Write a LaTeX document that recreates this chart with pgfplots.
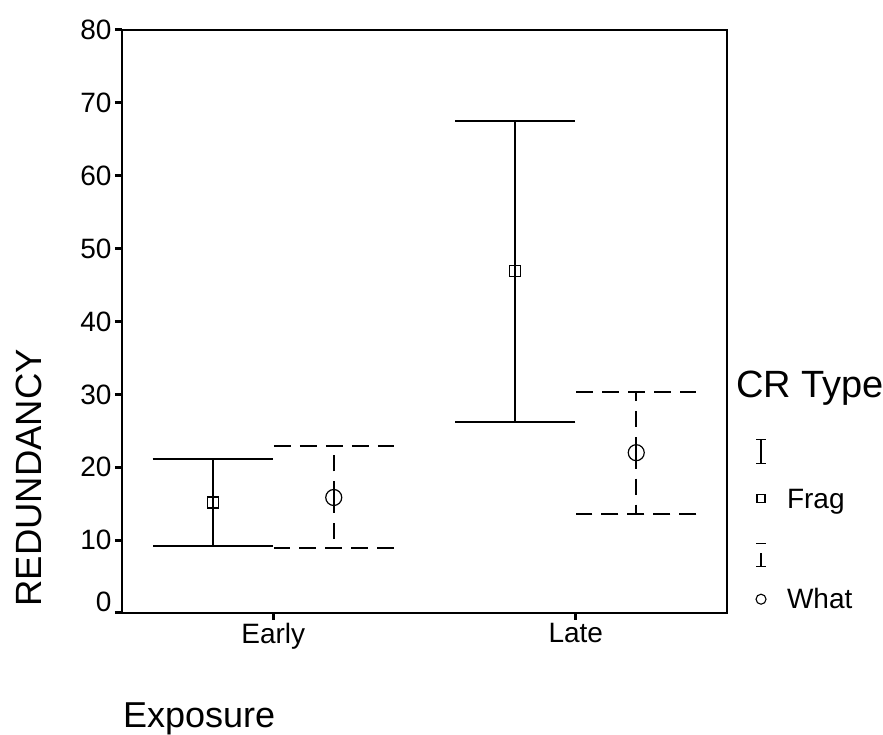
\documentclass[border=0pt]{standalone}
\usepackage{pgfplots}
\pgfplotsset{compat=1.18}
\usepackage{fontspec}
\setmainfont{Liberation Sans}
\begin{document}
\begin{tikzpicture}
\begin{axis}[
  name=ax,
  scale only axis, width=605pt, height=583pt,
  xmin=0.5, xmax=2.5, ymin=0, ymax=80,
  clip=false,
  xtick={1,2}, xticklabels={Early,Late},
  ytick={10,20,...,80},
  extra y ticks={0},
  extra y tick style={yticklabel style={yshift=11pt}},
  tick pos=left, tick align=outside,
  major tick length=7pt,
  every tick/.style={black, line width=3pt},
  major tick style={black, line width=3pt},
  axis line style={line width=1.6pt},
  /pgf/number format/assume math mode=true,
  ticklabel style={font=\fontsize{28}{32}\selectfont},
  xlabel={Exposure}, ylabel={REDUNDANCY},
  xlabel style={font=\fontsize{36}{42}\selectfont, at={(axis description cs:-0.004,-0.197)}, anchor=base west},
  ylabel style={font=\fontsize{36.5}{42}\selectfont, at={(axis description cs:-0.127,0.005)}, anchor=south west},
  legend style={at={(axis description cs:1.046,0.295)}, anchor=north west,
    draw=none, fill=none, inner sep=0pt, font=\fontsize{28}{32}\selectfont,
    row sep=28pt, column sep=20pt,
    nodes={inner sep=0pt, text height=17pt, text depth=5pt}},
  legend cell align=left,
  error bars/error bar style={line width=1.6pt},
]
% Frag
\addplot[forget plot, only marks, line width=1.6pt, mark=square, mark size=5.5pt,
  mark options={solid, line width=1.2pt},
  error bars/.cd, y dir=both, y explicit,
  error bar style={line width=1.6pt, solid},
  error mark options={rotate=90, line width=1.6pt, mark size=60pt, solid}]
  coordinates {(0.8,15.16) += (0,5.94) -= (0,5.99)
               (1.8,46.9) += (0,20.6) -= (0,20.7)};
% What
\addplot[forget plot, only marks, line width=1.6pt, mark=o, mark size=8pt,
  mark options={solid, line width=1.2pt},
  error bars/.cd, y dir=both, y explicit,
  error bar style={line width=1.6pt, dash pattern=on 16pt off 10pt},
  error mark options={rotate=90, line width=1.6pt, mark size=60pt, dash pattern=on 17pt off 9pt}]
  coordinates {(1.2,15.85) += (0,7.1) -= (0,6.92)
               (2.2,22.0) += (0,8.3) -= (0,8.4)};

\addlegendimage{legend image code/.code={
  \draw[overlay, solid, line width=1.2pt] (6pt,-11pt)--(6pt,13pt) (1pt,13pt)--(11pt,13pt) (1pt,-11pt)--(11pt,-11pt);
  \path[draw=none, fill=none] (0pt,0pt) rectangle (12pt,0pt);}}
\addlegendentry{}
\addlegendimage{legend image code/.code={
  \draw[overlay, solid, line width=1.1pt] (2pt,0pt) rectangle (10pt,8pt);
  \path[draw=none, fill=none] (0pt,0pt) rectangle (12pt,0pt);}}
\addlegendentry{Frag}
\addlegendimage{legend image code/.code={
  \draw[overlay, solid, line width=1.2pt] (6pt,-14pt)--(6pt,-1pt) (1pt,9pt)--(11pt,9pt) (1pt,-14pt)--(11pt,-14pt);
  \path[draw=none, fill=none] (0pt,0pt) rectangle (12pt,0pt);}}
\addlegendentry{}
\addlegendimage{legend image code/.code={
  \draw[overlay, solid, line width=1.1pt] (6pt,3pt) circle (5pt);
  \path[draw=none, fill=none] (0pt,0pt) rectangle (12pt,0pt);}}
\addlegendentry{What}

\node[anchor=base west, font=\fontsize{38}{44}\selectfont, inner sep=0pt]
  at (axis description cs:1.015,0.370) {CR Type};
\end{axis}
\pgfresetboundingbox
\path[use as bounding box] ([xshift=-122pt,yshift=-122pt]ax.south west) rectangle ++(883pt,735pt);
\end{tikzpicture}
\end{document}
